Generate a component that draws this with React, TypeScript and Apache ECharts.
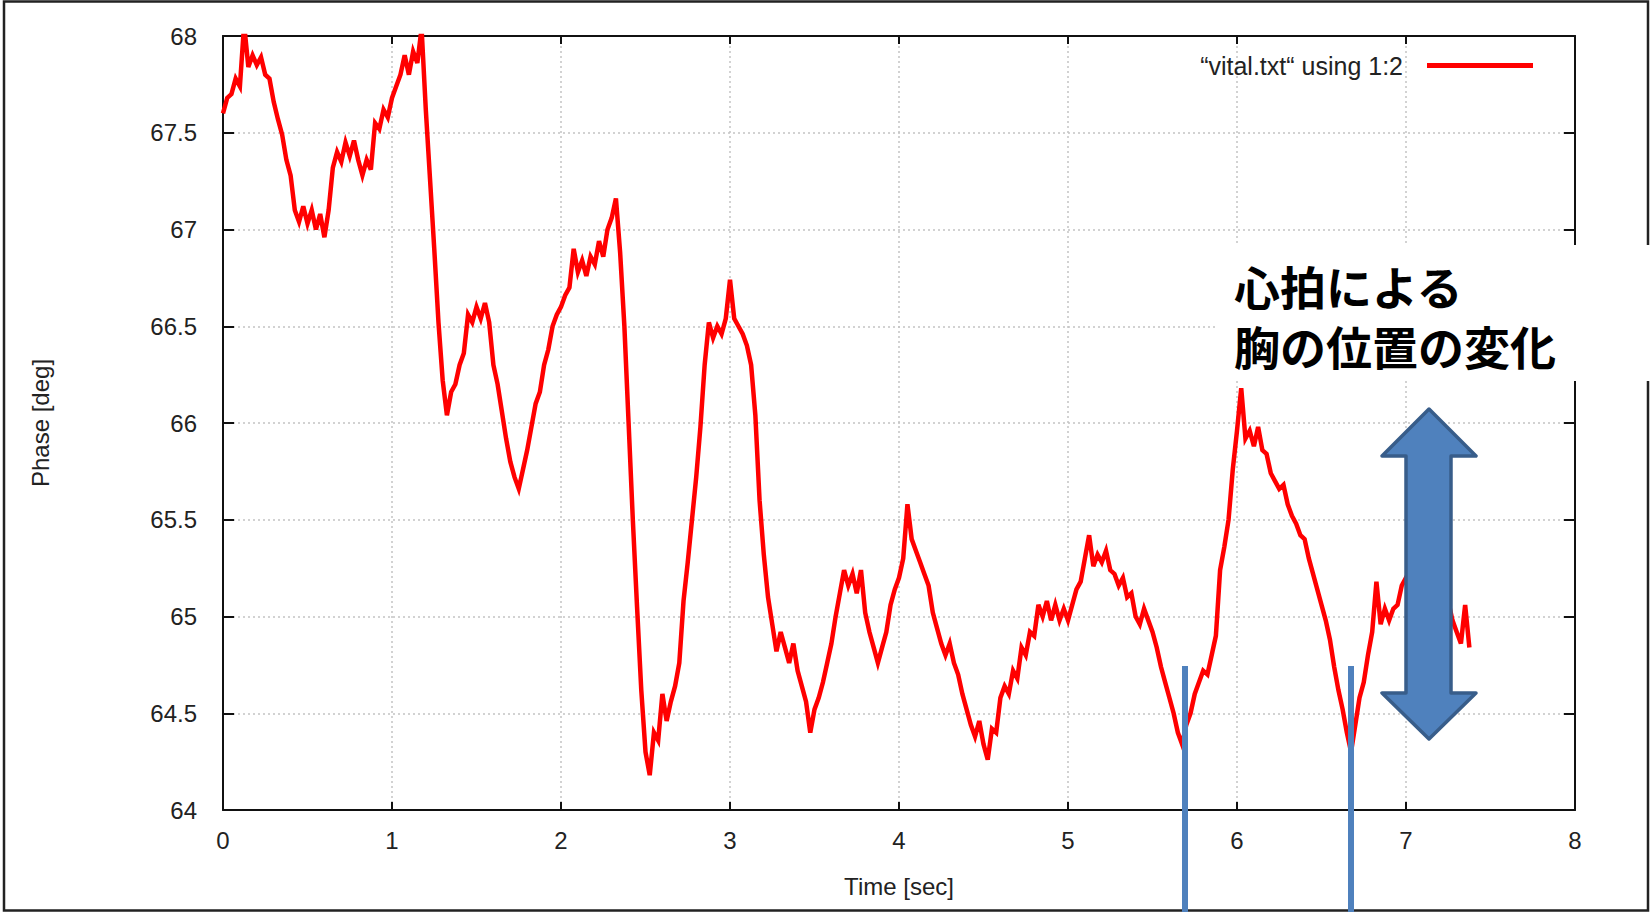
import React, { useEffect, useRef } from "react";
import * as echarts from "echarts";

// Sampling interval of the recorded phase signal (seconds)
const sampleStep = 0.025;

// Phase [deg] samples, one array per second of recording
const phaseSec0 = [
  67.6, 67.68, 67.7, 67.78, 67.74, 68.06, 67.84, 67.9, 67.85, 67.89,
  67.8, 67.78, 67.66, 67.57, 67.49, 67.36, 67.28, 67.1, 67.04, 67.12,
  67.03, 67.1, 67.0, 67.08, 66.96, 67.1, 67.32, 67.4, 67.35, 67.45,
  67.38, 67.46, 67.36, 67.28, 67.36, 67.31, 67.55, 67.52, 67.62, 67.58,
];
const phaseSec1 = [
  67.68, 67.74, 67.8, 67.9, 67.8, 67.92, 67.86, 68.04, 67.62, 67.26,
  66.9, 66.52, 66.22, 66.04, 66.16, 66.2, 66.3, 66.36, 66.56, 66.52,
  66.6, 66.54, 66.62, 66.52, 66.3, 66.2, 66.06, 65.92, 65.8, 65.72,
  65.66, 65.76, 65.86, 65.98, 66.1, 66.16, 66.3, 66.38, 66.5, 66.56,
];
const phaseSec2 = [
  66.6, 66.66, 66.7, 66.9, 66.78, 66.84, 66.76, 66.86, 66.82, 66.94,
  66.86, 67.0, 67.06, 67.16, 66.88, 66.5, 66.0, 65.5, 65.05, 64.62,
  64.3, 64.18, 64.4, 64.36, 64.6, 64.46, 64.56, 64.64, 64.76, 65.08,
  65.28, 65.5, 65.72, 65.98, 66.3, 66.52, 66.44, 66.5, 66.46, 66.54,
];
const phaseSec3 = [
  66.74, 66.54, 66.5, 66.46, 66.4, 66.3, 66.04, 65.6, 65.32, 65.1,
  64.96, 64.82, 64.92, 64.84, 64.76, 64.86, 64.72, 64.64, 64.56, 64.4,
  64.52, 64.58, 64.66, 64.76, 64.86, 65.0, 65.12, 65.24, 65.16, 65.22,
  65.12, 65.24, 65.02, 64.92, 64.84, 64.76, 64.84, 64.92, 65.06, 65.14,
];
const phaseSec4 = [
  65.2, 65.3, 65.58, 65.4, 65.34, 65.28, 65.22, 65.16, 65.02, 64.94,
  64.86, 64.8, 64.86, 64.76, 64.7, 64.6, 64.52, 64.44, 64.38, 64.46,
  64.34, 64.26, 64.42, 64.4, 64.58, 64.64, 64.6, 64.72, 64.68, 64.84,
  64.8, 64.92, 64.9, 65.06, 65.0, 65.08, 64.98, 65.06, 64.98, 65.04,
];
const phaseSec5 = [
  64.98, 65.06, 65.14, 65.18, 65.3, 65.42, 65.26, 65.32, 65.28, 65.34,
  65.24, 65.22, 65.16, 65.2, 65.1, 65.12, 65.0, 64.96, 65.04, 64.98,
  64.92, 64.84, 64.74, 64.66, 64.58, 64.5, 64.4, 64.34, 64.44, 64.5,
  64.6, 64.66, 64.72, 64.7, 64.8, 64.9, 65.24, 65.36, 65.5, 65.76,
];
const phaseSec6 = [
  65.96, 66.18, 65.92, 65.96, 65.88, 65.98, 65.86, 65.84, 65.74, 65.7,
  65.66, 65.68, 65.58, 65.52, 65.48, 65.42, 65.4, 65.3, 65.22, 65.14,
  65.06, 64.98, 64.88, 64.74, 64.62, 64.52, 64.4, 64.3, 64.44, 64.58,
  64.66, 64.8, 64.92, 65.18, 64.96, 65.04, 64.98, 65.04, 65.06, 65.16,
];
const phaseSec7 = [
  65.2, 65.14, 65.22, 65.16, 65.18, 65.12, 65.16, 65.08, 65.12, 65.04,
  65.08, 64.98, 64.92, 64.86, 65.06, 64.84,
];

const seriesName = "“vital.txt“ using 1:2";
const xAxisName = "Time [sec]";
const yAxisName = "Phase [deg]";
const annotationLines = ["心拍による", "胸の位置の変化"];

const FONT = "'Liberation Sans', Arial, sans-serif";

export default function App() {
  const ref = useRef<HTMLDivElement>(null);

  useEffect(() => {
    if (!ref.current) return;
    const chart = echarts.init(ref.current, undefined, { renderer: "svg" });

    const phase = [
      ...phaseSec0, ...phaseSec1, ...phaseSec2, ...phaseSec3,
      ...phaseSec4, ...phaseSec5, ...phaseSec6, ...phaseSec7,
    ];
    const data = phase.map((v, i) => [Number((i * sampleStep).toFixed(3)), v]);

    const axisLineStyle = { color: "#111", width: 2 };
    const gridLine = { show: true, lineStyle: { color: "#c4c4c4", width: 1.5, type: [2, 3] as any } };
    const labelStyle = { fontSize: 24, color: "#222", fontFamily: FONT };

    const arrowFill = "#4F81BD";
    const arrowStroke = "#385D8A";

    chart.setOption({
      animation: false,
      backgroundColor: "#ffffff",
      textStyle: { fontFamily: FONT },
      grid: { left: 223, top: 36, right: 75, bottom: 102, containLabel: false },
      legend: {
        show: true,
        right: 112,
        top: 48,
        align: "right",
        itemWidth: 106,
        itemHeight: 5,
        data: [{ name: seriesName, icon: "rect" }],
        textStyle: { fontSize: 25, color: "#222", fontFamily: FONT, padding: [0, 19, 0, 0] },
      },
      xAxis: [
        {
          type: "value",
          min: 0,
          max: 8,
          interval: 1,
          position: "bottom",
          name: xAxisName,
          nameLocation: "middle",
          nameGap: 64,
          nameTextStyle: { fontSize: 24, color: "#222", fontFamily: FONT },
          axisLine: { show: true, onZero: false, lineStyle: axisLineStyle },
          axisTick: { show: true, inside: true, length: 8, lineStyle: axisLineStyle },
          axisLabel: { ...labelStyle, margin: 18 },
          splitLine: gridLine,
        },
        {
          type: "value",
          min: 0,
          max: 8,
          interval: 1,
          position: "top",
          axisLine: { show: true, onZero: false, lineStyle: axisLineStyle },
          axisTick: { show: true, inside: true, length: 8, lineStyle: axisLineStyle },
          axisLabel: { show: false },
          splitLine: { show: false },
        },
      ],
      yAxis: [
        {
          type: "value",
          min: 64,
          max: 68,
          interval: 0.5,
          position: "left",
          name: yAxisName,
          nameLocation: "middle",
          nameGap: 171,
          nameTextStyle: { fontSize: 24, color: "#222", fontFamily: FONT },
          axisLine: { show: true, onZero: false, lineStyle: axisLineStyle },
          axisTick: { show: true, inside: true, length: 11, lineStyle: axisLineStyle },
          axisLabel: { ...labelStyle, margin: 26 },
          splitLine: gridLine,
        },
        {
          type: "value",
          min: 64,
          max: 68,
          interval: 0.5,
          position: "right",
          axisLine: { show: true, onZero: false, lineStyle: axisLineStyle },
          axisTick: { show: true, inside: true, length: 11, lineStyle: axisLineStyle },
          axisLabel: { show: false },
          splitLine: { show: false },
        },
      ],
      series: [
        {
          name: seriesName,
          type: "line",
          data,
          showSymbol: false,
          symbol: "none",
          color: "#ff0000",
          lineStyle: { color: "#ff0000", width: 4.5, join: "miter" },
          z: 3,
        },
      ],
      graphic: [
        {
          type: "rect",
          z: 50,
          shape: { x: 4, y: 1.5, width: 1644, height: 909 },
          style: { fill: "none", stroke: "#222", lineWidth: 2.5 },
        },
        {
          type: "rect",
          z: 60,
          shape: { x: 1216, y: 245, width: 440, height: 136 },
          style: { fill: "#ffffff", stroke: "none" },
        },
        {
          type: "text",
          z: 61,
          x: 1234,
          y: 285,
          style: {
            text: annotationLines[0],
            fontSize: 46,
            fontWeight: "bold",
            fontFamily: "'Noto Sans CJK JP', sans-serif",
            fill: "#000",
            verticalAlign: "middle",
            align: "left",
          },
        },
        {
          type: "text",
          z: 61,
          x: 1234,
          y: 345,
          style: {
            text: annotationLines[1],
            fontSize: 46,
            fontWeight: "bold",
            fontFamily: "'Noto Sans CJK JP', sans-serif",
            fill: "#000",
            verticalAlign: "middle",
            align: "left",
          },
        },
        {
          type: "polygon",
          z: 62,
          shape: {
            points: [
              [1429, 409],
              [1476, 456],
              [1451, 456],
              [1451, 693],
              [1476, 693],
              [1429, 739],
              [1382, 693],
              [1406, 693],
              [1406, 456],
              [1382, 456],
            ],
          },
          style: { fill: arrowFill, stroke: arrowStroke, lineWidth: 3.5, lineJoin: "round" },
        },
        {
          type: "line",
          z: 62,
          shape: { x1: 1185, y1: 666, x2: 1185, y2: 912 },
          style: { stroke: arrowFill, lineWidth: 6 },
        },
        {
          type: "line",
          z: 62,
          shape: { x1: 1351, y1: 666, x2: 1351, y2: 912 },
          style: { stroke: arrowFill, lineWidth: 6 },
        },
      ],
    });

    return () => {
      chart.dispose();
    };
  }, []);

  return (
    <div
      ref={ref}
      style={{ position: "absolute", left: 0, top: 0, width: 1650, height: 912, background: "#fff" }}
    />
  );
}
